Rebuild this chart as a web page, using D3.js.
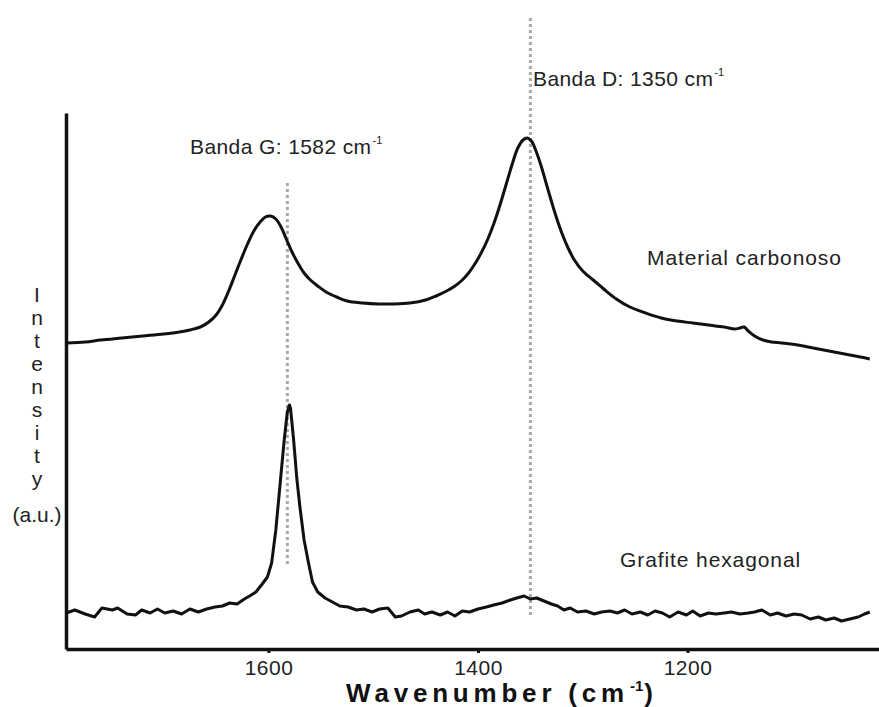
<!DOCTYPE html>
<html>
<head>
<meta charset="utf-8">
<script src="https://cdn.jsdelivr.net/npm/d3@7/dist/d3.min.js"></script>
<style>
  html, body { margin: 0; padding: 0; background: #fff; }
  svg { display: block; font-family: "Liberation Sans", Arial, sans-serif; }
</style>
</head>
<body>
<svg id="chart" width="879" height="707"></svg>
<script>
// Raman spectra: wavenumber (cm-1) vs intensity (a.u.)
const carbonoso = [
  [1793,306],[1775,307],[1760,309],[1740,311],[1720,313],[1700,315],[1685,317],[1675,319],
  [1665,322],[1657,327],[1650,334],[1644,344],[1638,358],[1632,374],[1626,390],[1620,405],
  [1614,418],[1608,427],[1603,432],[1598,433],[1593,430],[1588,422],[1583,410],[1578,398],
  [1572,386],[1566,376],[1560,369],[1553,363],[1545,357],[1535,352],[1525,348],[1510,346],
  [1495,345],[1480,345],[1465,346],[1450,349],[1440,353],[1430,358],[1422,363],[1415,369],
  [1409,376],[1403,385],[1397,396],[1391,409],[1385,425],[1379,444],[1373,465],[1367,486],
  [1362,501],[1357,509],[1353,511],[1349,508],[1345,499],[1340,484],[1335,466],[1330,448],
  [1325,431],[1320,416],[1314,401],[1308,389],[1300,378],[1290,369],[1280,360],[1268,350],
  [1255,342],[1240,336],[1225,331],[1210,328],[1195,326],[1180,324],[1165,322],[1155,320],
  [1150,321],[1146,322],[1142,318],[1136,313],[1128,309],[1120,307],[1110,306],[1095,304],
  [1080,301],[1065,298],[1050,295],[1035,292],[1026,290]
];

const grafite = [
  [1793,36],[1785,39],[1775,35],[1766,32],[1759,41],[1749,39],[1744,41],[1735,35],[1727,34],
  [1721,39],[1713,36],[1706,40],[1699,36],[1691,38],[1683,35],[1675,40],[1667,37],[1659,40],
  [1651,42],[1644,43],[1637,46],[1630,45],[1623,50],[1618,53],[1612,57],[1606,65],[1601,72],
  [1597,86],[1593,119],[1589,164],[1585,209],[1582,237],[1580,244],[1579,241],[1576,209],
  [1573,171],[1570,142],[1566,109],[1562,87],[1558,67],[1553,57],[1546,51],[1539,47],
  [1532,43],[1524,42],[1516,39],[1509,40],[1501,37],[1494,40],[1486,41],[1479,32],[1473,33],
  [1465,37],[1457,39],[1451,35],[1444,37],[1436,34],[1429,37],[1422,33],[1415,38],[1408,37],
  [1400,40],[1392,42],[1385,44],[1377,46],[1369,49],[1363,51],[1356,53],[1350,50],[1344,51],
  [1337,48],[1330,45],[1324,43],[1318,39],[1312,41],[1305,37],[1297,38],[1289,35],[1282,37],
  [1274,38],[1267,36],[1260,39],[1253,35],[1245,37],[1238,34],[1231,38],[1224,36],[1217,32],
  [1209,37],[1201,34],[1195,38],[1188,33],[1180,36],[1173,35],[1165,36],[1158,37],[1150,35],
  [1142,36],[1136,37],[1129,39],[1121,34],[1114,36],[1106,33],[1098,35],[1091,34],[1083,30],
  [1075,32],[1068,29],[1060,31],[1053,28],[1045,30],[1037,32],[1031,35],[1026,37]
];

const bandNames = ["G", "D"];
const bandValues = [1582, 1350];
const xTicks = [1600, 1400, 1200];
const seriesNames = ["Material carbonoso", "Grafite hexagonal"];
const yLabelLetters = ["I", "n", "t", "e", "n", "s", "i", "t", "y"];

const svg = d3.select("#chart");
const margin = { left: 66, right: 0, top: 113, bottom: 58 };
const W = 879, H = 707;

const x = d3.scaleLinear().domain([1793.3, 1017.2]).range([margin.left, W - margin.right]);
const y = d3.scaleLinear().domain([0, 536]).range([H - margin.bottom, margin.top]);

const font = '"Liberation Sans", Arial, sans-serif';

// dotted band markers
const markerSpan = [[466, 84], [631, 32]];
svg.append("g").selectAll("line").data(bandValues).join("line")
  .attr("x1", d => x(d)).attr("x2", d => x(d))
  .attr("y1", (d, i) => y(markerSpan[i][0])).attr("y2", (d, i) => y(markerSpan[i][1]))
  .attr("stroke", "#a8a8a8").attr("stroke-width", 3)
  .attr("stroke-dasharray", "3,3");

// spectra
svg.append("path").datum(carbonoso)
  .attr("d", d3.line().x(d => x(d[0])).y(d => y(d[1])).curve(d3.curveCatmullRom.alpha(0.5)))
  .attr("fill", "none").attr("stroke", "#111").attr("stroke-width", 3)
  .attr("stroke-linejoin", "round");
svg.append("path").datum(grafite)
  .attr("d", d3.line().x(d => x(d[0])).y(d => y(d[1])).curve(d3.curveLinear))
  .attr("fill", "none").attr("stroke", "#111").attr("stroke-width", 3)
  .attr("stroke-linejoin", "round");

// axes
const xAxis = svg.append("g")
  .attr("transform", `translate(0,${y(0)})`)
  .call(d3.axisBottom(x).tickValues(xTicks).tickSize(4).tickSizeOuter(0).tickPadding(7)
    .tickFormat(d3.format("d")));
xAxis.select(".domain").attr("stroke", "#111").attr("stroke-width", 3.5);
xAxis.selectAll(".tick line").attr("stroke", "#111").attr("stroke-width", 3);
xAxis.selectAll(".tick text").attr("font-family", font).attr("font-size", 21)
  .attr("fill", "#222").attr("letter-spacing", 0.5);

const yAxis = svg.append("g")
  .attr("transform", `translate(${margin.left},0)`)
  .call(d3.axisLeft(y).tickValues([]).tickSizeOuter(0));
yAxis.select(".domain").attr("stroke", "#111").attr("stroke-width", 3.5);

// axis titles
const xt = svg.append("text").attr("x", 346).attr("y", 702)
  .attr("font-family", font).attr("font-weight", "bold").attr("font-size", 26)
  .attr("fill", "#111").attr("letter-spacing", 4.8);
xt.append("tspan").text("Wavenumber  (cm");
xt.append("tspan").attr("dy", -11).attr("dx", 1).attr("font-size", 15).attr("letter-spacing", 0).text("-1");
xt.append("tspan").attr("dy", 11).attr("dx", 1).text(")");

const yl = svg.append("g").attr("font-family", font).attr("font-size", 21).attr("fill", "#222")
  .attr("text-anchor", "middle");
yl.selectAll("text.letter").data(yLabelLetters).join("text").attr("class", "letter")
  .attr("x", 37).attr("y", (d, i) => 302 + i * 23).text(d => d);
yl.append("text").attr("x", 37).attr("y", 522).text("(a.u.)");

// band annotations
const bandLabelPos = [[190, 154], [533, 86]];
bandNames.forEach((n, i) => {
  const t = svg.append("text").attr("x", bandLabelPos[i][0]).attr("y", bandLabelPos[i][1])
    .attr("font-family", font).attr("font-size", 21).attr("fill", "#222").attr("letter-spacing", 0.4);
  t.append("tspan").text(`Banda ${n}: ${bandValues[i]} cm`);
  t.append("tspan").attr("dy", -10).attr("dx", 1).attr("font-size", 11).attr("letter-spacing", 0).text("-1");
});

// series labels
const seriesLabelPos = [[647, 265], [620, 567]];
svg.selectAll("text.series").data(seriesNames).join("text").attr("class", "series")
  .attr("x", (d, i) => seriesLabelPos[i][0]).attr("y", (d, i) => seriesLabelPos[i][1])
  .attr("font-family", font).attr("font-size", 21).attr("fill", "#222").attr("letter-spacing", 0.9)
  .text(d => d);
</script>
</body>
</html>
